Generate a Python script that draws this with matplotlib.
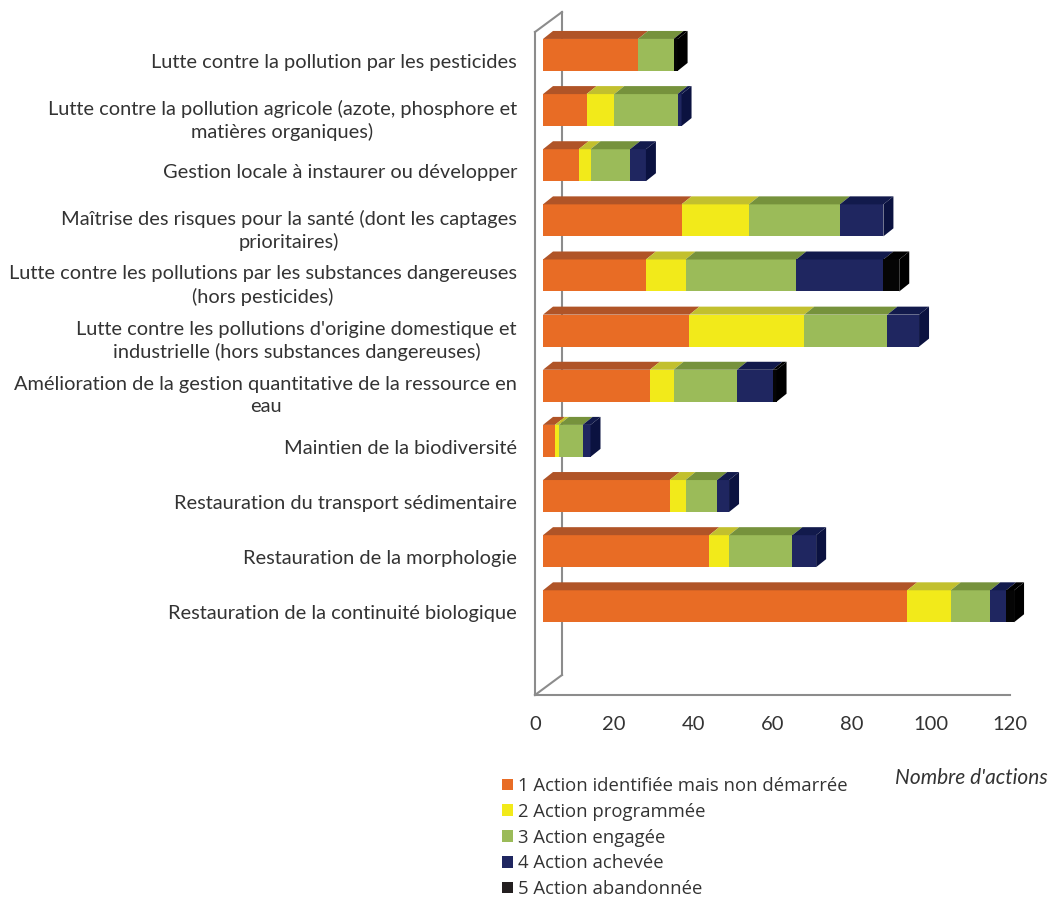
import matplotlib.pyplot as plt
from matplotlib.patches import Polygon, Patch

categories = [
    "Lutte contre la pollution par les pesticides",
    "Lutte contre la pollution agricole (azote, phosphore et\nmatières organiques)",
    "Gestion locale à instaurer ou développer",
    "Maîtrise des risques pour la santé (dont les captages\nprioritaires)",
    "Lutte contre les pollutions par les substances dangereuses\n(hors pesticides)",
    "Lutte contre les pollutions d'origine domestique et\nindustrielle (hors substances dangereuses)",
    "Amélioration de la gestion quantitative de la ressource en\neau",
    "Maintien de la biodiversité",
    "Restauration du transport sédimentaire",
    "Restauration de la morphologie",
    "Restauration de la continuité biologique",
]
identifiee = [24, 11, 9, 35, 26, 37, 27, 3, 32, 42, 92]
programmee = [0, 7, 3, 17, 10, 29, 6, 1, 4, 5, 11]
engagee = [9, 16, 10, 23, 28, 21, 16, 6, 8, 16, 10]
achevee = [0, 1, 4, 11, 22, 8, 9, 2, 3, 6, 4]
abandonnee = [1, 0, 0, 0, 4, 0, 1, 0, 0, 0, 2]

series = [identifiee, programmee, engagee, achevee, abandonnee]
series_names = ["1 Action identifiée mais non démarrée", "2 Action programmée",
                "3 Action engagée", "4 Action achevée", "5 Action abandonnée"]
front_col = ["#E86C25", "#F2EA1A", "#9BBB59", "#1F2660", "#050505"]
top_col = ["#B05427", "#C2C02E", "#76923C", "#121A4C", "#000000"]
side_col = ["#A04A20", "#B0AE20", "#66822E", "#0B1240", "#000000"]
legend_col = ["#E86C25", "#F2EA1A", "#9BBB59", "#1F2660", "#231F20"]
txt_col = "#333333"

W, H = 1054, 900
fig = plt.figure(figsize=(W / 100, H / 100), dpi=100)
ax_l, ax_r, ax_t, ax_b = 535, 1010, 32, 695
ax = fig.add_axes([ax_l / W, 1 - ax_b / H, (ax_r - ax_l) / W, (ax_b - ax_t) / H])

xmax = 120
ytop, ybot = -0.525, 11.5
ax.set_xlim(0, xmax)
ax.set_ylim(ybot, ytop)

# pixel -> data conversion for the fake 3D offsets
sx = (ax_r - ax_l) / xmax
sy = (ax_b - ax_t) / (ybot - ytop)
fx, fy = 8 / sx, 6 / sy        # shift of the bars' front face
ddx, ddy = 10 / sx, 8 / sy     # depth of the bars
wx, wy = 27 / sx, 20 / sy      # depth of the wall

grey = "#8C8C8C"
# back wall lines
ax.plot([wx, wx], [ytop - wy, ybot - wy], color=grey, lw=1.5, clip_on=False, zorder=1)
ax.plot([0, wx], [ytop, ytop - wy], color=grey, lw=1.5, clip_on=False, zorder=1)
ax.plot([0, wx], [ybot, ybot - wy], color=grey, lw=1.5, clip_on=False, zorder=1)

h = 0.58
for i in range(len(categories)):
    y = i - fy
    left = fx
    last = None
    for k, s in enumerate(series):
        w = s[i]
        if w <= 0:
            continue
        bars = ax.barh(y, w, left=left, height=h, facecolor=front_col[k], edgecolor="none",
                       linewidth=0, zorder=3)
        for b in bars:
            b.set_clip_on(False)
        yt = y - h / 2
        ax.add_patch(Polygon([(left, yt), (left + w, yt), (left + w + ddx, yt - ddy),
                              (left + ddx, yt - ddy)], closed=True,
                             facecolor=top_col[k], edgecolor="none", zorder=3, clip_on=False))
        left += w
        last = k
    yt, yb = y - h / 2, y + h / 2
    ax.add_patch(Polygon([(left, yt), (left, yb), (left + ddx, yb - ddy), (left + ddx, yt - ddy)],
                         closed=True, facecolor=side_col[last], edgecolor="none", zorder=3,
                         clip_on=False))

ax.set_yticks(range(len(categories)))
ax.set_yticklabels(categories, fontfamily="Lato", fontsize=14.4, color=txt_col,
                   ha="right", multialignment="center", linespacing=1.35)
ax.set_xticks(range(0, 121, 20))
ax.set_xticklabels([str(v) for v in range(0, 121, 20)], fontfamily="Lato", fontsize=14.5,
                   color=txt_col)
ax.tick_params(axis="y", length=0, pad=13)
ax.tick_params(axis="x", length=0, pad=15)
for sp in ["top", "right"]:
    ax.spines[sp].set_visible(False)
for sp in ["left", "bottom"]:
    ax.spines[sp].set_color(grey)
    ax.spines[sp].set_linewidth(1.5)

handles = [Patch(facecolor=c, edgecolor="none") for c in legend_col]
fig.legend(handles, series_names, loc="upper left", bbox_to_anchor=(502 / W, 1 - 777 / H),
           frameon=False, prop={"family": "Open Sans", "size": 13.3},
           handlelength=0.6, handleheight=0.6, handletextpad=0.25, labelspacing=0.42,
           borderaxespad=0, borderpad=0, labelcolor=txt_col)
fig.text(1048 / W, 1 - 778 / H, "Nombre d'actions", ha="right", va="center",
         fontfamily="Lato", fontstyle="italic", fontsize=15, color=txt_col)

fig.savefig("out.png", dpi=100)
